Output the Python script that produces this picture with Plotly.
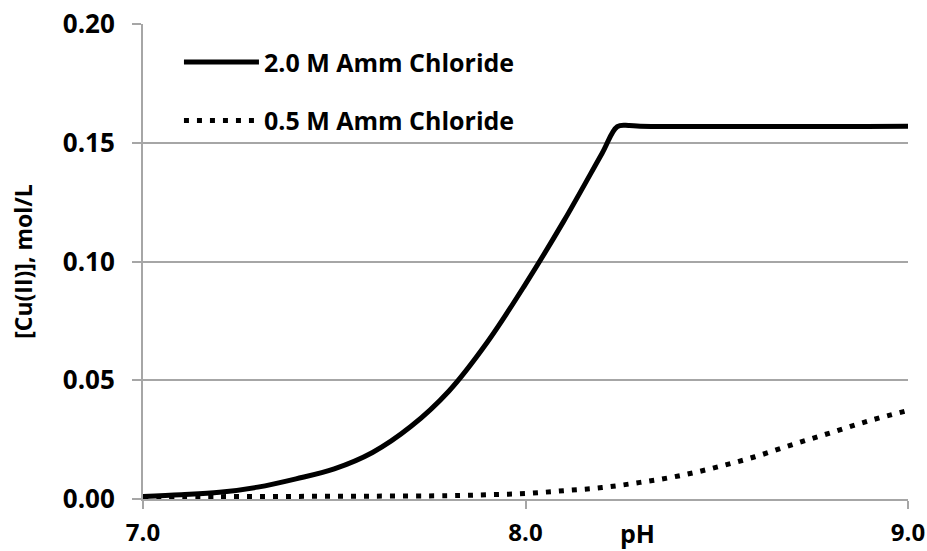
import plotly.graph_objects as go

# pH values and dissolved copper(II) for the two ammonium chloride strengths
ph_2m = [7.0, 7.1, 7.2, 7.3, 7.4, 7.5, 7.6, 7.7, 7.8, 7.9, 8.0, 8.1, 8.2, 8.24, 8.27, 8.3, 9.0]
cu_2m = [0.0011, 0.0018, 0.0028, 0.0050, 0.0085, 0.0127, 0.0196, 0.0305, 0.0455, 0.0660,
         0.0905, 0.1170, 0.1455, 0.1568, 0.1573, 0.1570, 0.1570]

ph_05m = [7.0, 7.2, 7.4, 7.6, 7.8, 7.9, 8.0, 8.1, 8.2, 8.3, 8.4, 8.5, 8.6, 8.7, 8.8, 8.9, 9.0]
cu_05m = [0.0010, 0.0010, 0.0011, 0.0012, 0.0014, 0.0018, 0.0023, 0.0035, 0.0048, 0.0070,
          0.0097, 0.0134, 0.0178, 0.0230, 0.0280, 0.0330, 0.0373]

x_ticks = [7.0, 8.0, 9.0]
x_tick_text = ["7.0", "8.0", "9.0"]
y_ticks = [0.00, 0.05, 0.10, 0.15, 0.20]
y_tick_text = ["0.00", "0.05", "0.10", "0.15", "0.20"]

FONT = "Open Sans"
GRID = "#a6a6a6"

fig = go.Figure()
fig.add_trace(go.Scatter(
    x=ph_2m, y=cu_2m, mode="lines", name="<b>2.0 M Amm Chloride</b>",
    line=dict(color="black", width=5, shape="spline", smoothing=1.0),
    legendgroup="a",
))
fig.add_trace(go.Scatter(
    x=ph_05m, y=cu_05m, mode="lines", name="<b>0.5 M Amm Chloride</b>",
    line=dict(color="black", width=5, dash="5px,8px", shape="spline", smoothing=1.0),
    legendgroup="b",
))

fig.update_layout(
    width=927, height=551,
    margin=dict(l=143, r=19, t=24, b=52),
    paper_bgcolor="white", plot_bgcolor="white",
    font=dict(family=FONT, size=26, color="black"),
    showlegend=True,
    legend=dict(
        x=0.047, y=0.968, xanchor="left", yanchor="top",
        bgcolor="rgba(0,0,0,0)", tracegroupgap=23,
        itemwidth=75, font=dict(size=25),
    ),
    xaxis=dict(
        range=[7.0, 9.0], tickvals=x_ticks, ticktext=["<b>%s</b>" % t for t in x_tick_text],
        showgrid=False, zeroline=False, automargin=False,
        showline=True, linecolor=GRID, linewidth=2,
        ticks="outside", ticklen=8, tickcolor=GRID, tickwidth=2,
        tickfont=dict(size=24), ticklabelstandoff=3,
    ),
    yaxis=dict(
        range=[0, 0.2], tickvals=y_ticks, ticktext=["<b>%s</b>" % t for t in y_tick_text],
        showgrid=True, gridcolor=GRID, gridwidth=2, zeroline=False, automargin=False,
        showline=True, linecolor=GRID, linewidth=2,
        ticks="outside", ticklen=9, tickcolor=GRID, tickwidth=2,
        ticklabelstandoff=12,
        title=dict(text="<b>[Cu(II)], mol/L</b>", font=dict(size=23), standoff=24),
    ),
)

fig.add_annotation(
    text="<b>pH</b>", xref="paper", yref="paper", x=(637 - 143) / 765, y=-0.072,
    xanchor="center", yanchor="middle", showarrow=False, font=dict(size=25),
)

fig.write_html("out.html")
